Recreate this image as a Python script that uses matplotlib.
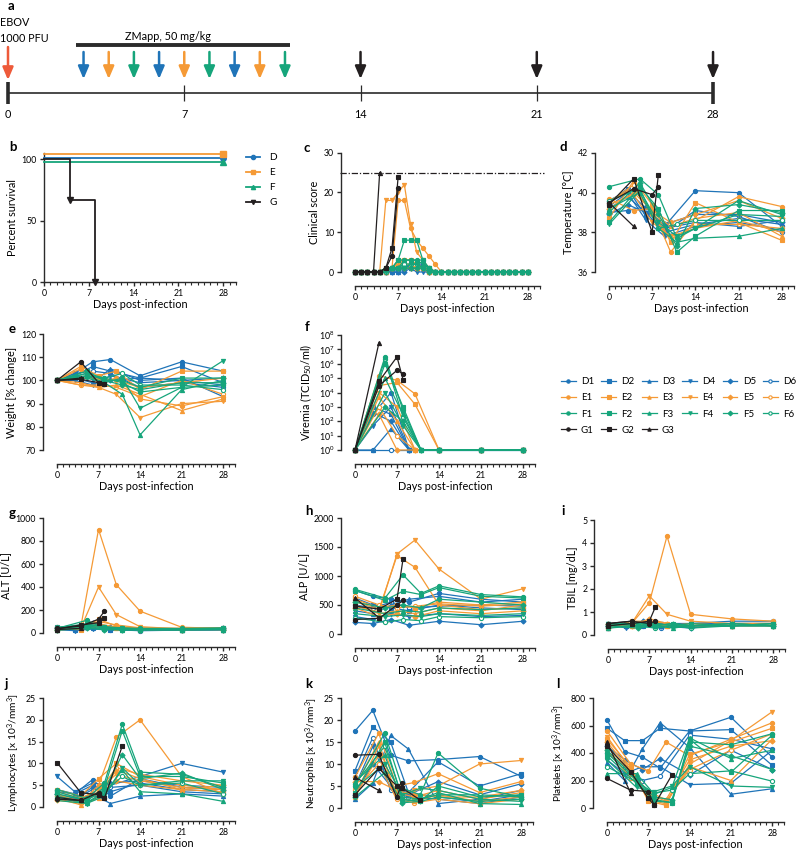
import matplotlib.pyplot as plt
import numpy as np
from matplotlib.ticker import MultipleLocator, FixedLocator
from matplotlib.lines import Line2D

plt.rcParams['font.family'] = ['Lato', 'DejaVu Sans']
plt.rcParams['mathtext.fontset'] = 'custom'
plt.rcParams['mathtext.rm'] = 'Lato'
plt.rcParams['mathtext.it'] = 'Lato:italic'
plt.rcParams['mathtext.bf'] = 'Lato:bold'

BLUE = '#1f74b8'
ORANGE = '#f59a36'
GREEN = '#16a57b'
BLACK = '#231f20'
RED = '#ee5a3a'
DARK = '#2b2b2b'

# ---- panel a: study timeline ----
timeline_days = [0, 7, 14, 21, 28]
dose_days = [3, 4, 5, 6, 7, 8, 9, 10, 11]
dose_groups = ['D', 'E', 'F', 'D', 'E', 'F', 'D', 'E', 'F']
sample_days = [14, 21, 28]

# ---- sampling schedules ----
days_D = [0, 3, 6, 9, 14, 21, 28]
days_E = [0, 4, 7, 10, 14, 21, 28]
days_F = [0, 5, 8, 11, 14, 21, 28]
days_G = [[0, 4, 7, 8], [0, 4, 7, 8], [0, 4]]
days_G_blood = [[0, 4, 7, 8], [0, 4, 7, 8, 11], [0, 4]]
score_days = list(range(29))
score_days_G = [list(range(8)), list(range(8)), list(range(5))]

# ---- panel b: survival ----
surv_days = [0, 28]
surv_D = [100, 100]
surv_E = [100, 100]
surv_F = [100, 100]
surv_days_G = [0, 4, 8]
surv_G = [100, 66.7, 0]

# ---- panel c: clinical score (daily) ----
score_D = [
    [0, 0, 0, 0, 0, 0, 0, 1, 1, 2, 2, 2, 1, 0, 0, 0, 0, 0, 0, 0, 0, 0, 0, 0, 0, 0, 0, 0, 0],
    [0, 0, 0, 0, 0, 0, 1, 1, 2, 1, 1, 1, 0, 0, 0, 0, 0, 0, 0, 0, 0, 0, 0, 0, 0, 0, 0, 0, 0],
    [0, 0, 0, 0, 0, 0, 0, 0, 1, 1, 1, 2, 1, 0, 0, 0, 0, 0, 0, 0, 0, 0, 0, 0, 0, 0, 0, 0, 0],
    [0, 0, 0, 0, 0, 0, 0, 1, 1, 1, 0, 0, 0, 0, 0, 0, 0, 0, 0, 0, 0, 0, 0, 0, 0, 0, 0, 0, 0],
    [0, 0, 0, 0, 0, 0, 0, 0, 0, 1, 1, 1, 0, 0, 0, 0, 0, 0, 0, 0, 0, 0, 0, 0, 0, 0, 0, 0, 0],
    [0, 0, 0, 0, 0, 0, 1, 1, 1, 1, 1, 1, 0, 0, 0, 0, 0, 0, 0, 0, 0, 0, 0, 0, 0, 0, 0, 0, 0],
]
score_E = [
    [0, 0, 0, 0, 0, 0, 1, 18, 18, 11, 8, 6, 4, 2, 0, 0, 0, 0, 0, 0, 0, 0, 0, 0, 0, 0, 0, 0, 0],
    [0, 0, 0, 0, 0, 1, 1, 3, 3, 3, 2, 1, 1, 0, 0, 0, 0, 0, 0, 0, 0, 0, 0, 0, 0, 0, 0, 0, 0],
    [0, 0, 0, 0, 0, 0, 1, 2, 2, 2, 1, 1, 0, 0, 0, 0, 0, 0, 0, 0, 0, 0, 0, 0, 0, 0, 0, 0, 0],
    [0, 0, 0, 0, 0, 18, 18, 20, 22, 12, 5, 3, 1, 0, 0, 0, 0, 0, 0, 0, 0, 0, 0, 0, 0, 0, 0, 0, 0],
    [0, 0, 0, 0, 0, 0, 1, 1, 1, 1, 1, 1, 0, 0, 0, 0, 0, 0, 0, 0, 0, 0, 0, 0, 0, 0, 0, 0, 0],
    [0, 0, 0, 0, 0, 1, 1, 2, 3, 3, 2, 1, 0, 0, 0, 0, 0, 0, 0, 0, 0, 0, 0, 0, 0, 0, 0, 0, 0],
]
score_F = [
    [0, 0, 0, 0, 0, 1, 1, 3, 3, 3, 3, 3, 1, 0, 0, 0, 0, 0, 0, 0, 0, 0, 0, 0, 0, 0, 0, 0, 0],
    [0, 0, 0, 0, 0, 1, 1, 3, 8, 8, 8, 3, 1, 0, 0, 0, 0, 0, 0, 0, 0, 0, 0, 0, 0, 0, 0, 0, 0],
    [0, 0, 0, 0, 0, 1, 1, 1, 3, 3, 3, 2, 1, 0, 0, 0, 0, 0, 0, 0, 0, 0, 0, 0, 0, 0, 0, 0, 0],
    [0, 0, 0, 0, 0, 0, 1, 1, 1, 2, 2, 1, 0, 0, 0, 0, 0, 0, 0, 0, 0, 0, 0, 0, 0, 0, 0, 0, 0],
    [0, 0, 0, 0, 0, 1, 1, 1, 1, 1, 1, 1, 0, 0, 0, 0, 0, 0, 0, 0, 0, 0, 0, 0, 0, 0, 0, 0, 0],
    [0, 0, 0, 0, 0, 0, 1, 1, 2, 2, 2, 1, 1, 0, 0, 0, 0, 0, 0, 0, 0, 0, 0, 0, 0, 0, 0, 0, 0],
]
score_G = [
    [0, 0, 0, 0, 0, 1, 4, 21],
    [0, 0, 0, 0, 0, 1, 6, 24],
    [0, 0, 0, 0, 25],
]
score_endpoint = 25

# ---- panel d: temperature ----
temp_D = [
    [39.0, 39.1, 39.3, 38.3, 40.1, 40.0, 38.3],
    [39.5, 40.2, 38.8, 38.2, 38.5, 38.3, 38.6],
    [39.2, 39.8, 39.0, 38.0, 38.4, 38.7, 38.4],
    [39.3, 40.0, 38.6, 37.8, 38.3, 38.5, 38.1],
    [38.9, 39.4, 39.0, 38.4, 38.9, 38.9, 38.5],
    [39.6, 40.1, 39.2, 38.0, 39.1, 38.8, 38.0],
]
temp_E = [
    [39.7, 39.1, 39.2, 37.0, 38.6, 39.8, 39.3],
    [38.7, 40.6, 39.4, 37.5, 39.5, 38.5, 37.6],
    [39.6, 40.2, 39.0, 38.3, 38.7, 39.0, 37.8],
    [39.4, 39.9, 38.5, 37.8, 38.2, 38.6, 38.0],
    [39.2, 40.0, 39.1, 38.5, 38.9, 39.6, 38.7],
    [39.5, 40.4, 38.9, 37.6, 38.4, 38.4, 38.2],
]
temp_F = [
    [40.3, 40.7, 39.9, 37.7, 38.2, 39.6, 38.9],
    [38.5, 40.3, 39.2, 37.0, 37.8, 39.1, 39.1],
    [39.2, 40.0, 38.2, 37.5, 37.7, 37.8, 38.2],
    [38.4, 40.1, 38.5, 37.8, 38.2, 38.9, 38.8],
    [39.0, 40.5, 38.9, 37.3, 39.2, 39.4, 39.0],
    [39.6, 40.2, 38.2, 38.4, 38.6, 38.6, 38.6],
]
temp_G = [
    [39.5, 40.2, 39.9, 40.3],
    [39.4, 40.7, 38.0, 40.9],
    [39.5, 38.3],
]

# ---- panel e: weight ----
weight_D = [
    [100, 103, 108, 109, 102, 108, 104],
    [100, 102, 106, 104, 101, 106, 99],
    [100, 101, 99, 105, 100, 101, 93],
    [100, 100, 98, 102, 99, 100, 98],
    [100, 102, 101, 100, 101, 100, 101],
    [100, 103, 104, 103, 97, 99, 97],
]
weight_E = [
    [100, 105, 99, 101, 92, 89, 93],
    [100, 106, 102, 104, 96, 104, 104],
    [100, 99, 97, 98, 94, 87, 92],
    [100, 98, 97, 94, 84, 90, 91],
    [100, 101, 101, 100, 97, 99, 101],
    [100, 98, 98, 97, 93, 100, 94],
]
weight_F = [
    [100, 103, 101, 99, 95, 97, 98],
    [100, 104, 100, 100, 97, 101, 101],
    [100, 102, 99, 94, 76.5, 96, 100],
    [100, 101, 99, 101, 88, 97, 108.5],
    [100, 103, 100, 98, 96, 99, 99],
    [100, 102, 101, 103, 98, 98, 96],
]
weight_G = [
    [100, 108, 99, 98.5],
    [100, 100.5, 99, 98.5],
    [100, 101],
]

# ---- panel f: viremia (TCID50/ml) ----
vir_D = [
    [1, 3e2, 1e4, 1, 1, 1, 1],
    [1, 1e3, 3e2, 1, 1, 1, 1],
    [1, 1, 3e1, 1, 1, 1, 1],
    [1, 5e1, 1e3, 1, 1, 1, 1],
    [1, 4e2, 1e2, 1, 1, 1, 1],
    [1, 1, 1, 1, 1, 1, 1],
]
vir_E = [
    [1, 1.5e5, 7e4, 8e3, 1, 1, 1],
    [1, 3e4, 5e4, 1.5e3, 1, 1, 1],
    [1, 5e3, 1e2, 1, 1, 1, 1],
    [1, 1e4, 1e3, 1, 1, 1, 1],
    [1, 3e2, 1, 1, 1, 1, 1],
    [1, 1e3, 1e1, 1, 1, 1, 1],
]
vir_F = [
    [1, 3e6, 6e2, 1, 1, 1, 1],
    [1, 1e6, 1e3, 1, 1, 1, 1],
    [1, 1e5, 3e2, 1, 1, 1, 1],
    [1, 1e4, 5e1, 1, 1, 1, 1],
    [1, 1e3, 1e2, 1, 1, 1, 1],
    [1, 2e6, 2e2, 1, 1, 1, 1],
]
vir_G = [
    [1, 3e4, 3.5e5, 2e5],
    [1, 6e4, 3e6, 8e4],
    [1, 3e7],
]

# ---- panel g: ALT ----
alt_D = [
    [40, 30, 60, 35, 30, 35, 35],
    [50, 25, 40, 30, 25, 30, 40],
    [35, 45, 70, 40, 35, 30, 30],
    [30, 20, 35, 25, 30, 25, 30],
    [45, 35, 90, 50, 40, 35, 45],
    [25, 30, 45, 30, 20, 25, 25],
]
alt_E = [
    [40, 50, 900, 420, 190, 50, 40],
    [35, 30, 120, 60, 40, 30, 35],
    [45, 35, 60, 45, 35, 40, 40],
    [30, 40, 400, 160, 55, 35, 30],
    [25, 40, 80, 50, 30, 30, 30],
    [50, 45, 100, 70, 45, 40, 45],
]
alt_F = [
    [40, 110, 40, 30, 30, 35, 35],
    [35, 60, 45, 35, 30, 30, 40],
    [30, 50, 35, 30, 25, 30, 30],
    [45, 80, 50, 40, 35, 35, 35],
    [25, 40, 30, 25, 30, 25, 30],
    [50, 70, 55, 45, 40, 40, 45],
]
alt_G = [
    [40, 60, 120, 190],
    [35, 70, 90, 130],
    [30, 40],
]

# ---- panel h: ALP ----
alp_D = [
    [750, 650, 600, 550, 700, 600, 550],
    [620, 500, 450, 400, 500, 450, 420],
    [400, 350, 500, 600, 650, 550, 600],
    [300, 250, 350, 300, 350, 300, 320],
    [200, 180, 250, 150, 220, 160, 220],
    [500, 450, 550, 450, 480, 500, 480],
]
alp_E = [
    [560, 420, 1350, 1150, 500, 420, 450],
    [600, 450, 500, 450, 550, 500, 550],
    [500, 350, 400, 350, 450, 400, 500],
    [480, 380, 1380, 1620, 1120, 600, 780],
    [450, 300, 350, 300, 400, 350, 400],
    [650, 500, 450, 480, 520, 480, 520],
]
alp_F = [
    [770, 620, 1020, 700, 830, 680, 640],
    [750, 580, 740, 680, 800, 650, 620],
    [450, 350, 400, 380, 450, 420, 450],
    [350, 300, 330, 300, 350, 320, 350],
    [550, 450, 500, 450, 600, 550, 500],
    [280, 200, 250, 230, 300, 280, 300],
]
alp_G = [
    [250, 270, 500, 580],
    [480, 430, 600, 1290],
    [620, 280],
]

# ---- panel i: TBIL ----
tbil_D = [
    [0.5, 0.4, 0.5, 0.4, 0.5, 0.6, 0.6],
    [0.4, 0.5, 0.4, 0.5, 0.4, 0.5, 0.5],
    [0.3, 0.4, 0.5, 0.4, 0.4, 0.4, 0.5],
    [0.5, 0.3, 0.4, 0.5, 0.5, 0.5, 0.4],
    [0.4, 0.4, 0.6, 0.4, 0.3, 0.5, 0.5],
    [0.3, 0.5, 0.4, 0.3, 0.4, 0.4, 0.4],
]
tbil_E = [
    [0.4, 0.5, 1.4, 4.3, 0.9, 0.7, 0.6],
    [0.3, 0.6, 0.6, 0.5, 0.4, 0.5, 0.5],
    [0.5, 0.4, 0.5, 0.4, 0.5, 0.4, 0.4],
    [0.4, 0.5, 1.7, 0.9, 0.6, 0.5, 0.5],
    [0.5, 0.4, 0.7, 0.5, 0.4, 0.4, 0.5],
    [0.3, 0.5, 0.5, 0.4, 0.4, 0.5, 0.4],
]
tbil_F = [
    [0.5, 0.4, 0.5, 0.4, 0.4, 0.4, 0.5],
    [0.4, 0.5, 0.4, 0.5, 0.4, 0.5, 0.4],
    [0.3, 0.4, 0.4, 0.3, 0.4, 0.4, 0.4],
    [0.5, 0.5, 0.5, 0.4, 0.5, 0.4, 0.5],
    [0.4, 0.3, 0.4, 0.5, 0.4, 0.5, 0.4],
    [0.5, 0.4, 0.3, 0.4, 0.3, 0.4, 0.4],
]
tbil_G = [
    [0.5, 0.6, 0.5, 0.6],
    [0.4, 0.5, 0.6, 1.2],
    [0.5, 0.6],
]

# ---- panel j: lymphocytes ----
lym_D = [
    [4.0, 3.0, 6.3, 2.5, 6.5, 4.5, 4.0],
    [3.5, 3.0, 5.0, 3.5, 5.5, 4.0, 3.5],
    [2.0, 1.5, 3.0, 0.8, 2.5, 3.0, 2.5],
    [7.0, 3.5, 5.5, 5.0, 7.0, 10.0, 8.0],
    [3.0, 2.0, 4.5, 5.5, 6.0, 5.0, 4.5],
    [2.5, 1.8, 4.0, 4.5, 5.0, 3.5, 3.0],
]
lym_E = [
    [3.0, 1.0, 5.0, 16.0, 20.0, 7.0, 3.0],
    [4.0, 2.5, 6.5, 10.0, 7.0, 5.0, 4.0],
    [2.0, 0.5, 2.0, 8.5, 6.5, 4.0, 3.5],
    [3.5, 2.0, 4.0, 7.5, 6.0, 4.5, 4.0],
    [1.5, 1.0, 3.0, 6.0, 5.0, 4.0, 5.0],
    [2.5, 1.5, 3.5, 9.0, 7.5, 6.0, 5.0],
]
lym_F = [
    [4.0, 2.0, 5.5, 19.0, 8.0, 7.5, 4.5],
    [3.5, 1.5, 4.5, 17.5, 7.0, 7.0, 5.5],
    [2.5, 1.0, 3.0, 8.5, 3.5, 3.0, 1.3],
    [1.5, 0.8, 2.5, 9.0, 5.0, 6.0, 6.0],
    [3.0, 1.5, 4.0, 12.0, 6.5, 7.8, 4.0],
    [2.0, 1.0, 3.5, 7.0, 5.0, 5.5, 3.0],
]
lym_G = [
    [1.8, 1.5, 3.3, 2.0],
    [10.2, 3.3, 2.8, 2.0, 14.0],
    [2.2, 1.5],
]

# ---- panel k: neutrophils ----
neu_D = [
    [17.5, 22.2, 12.0, 10.7, 11.0, 11.7, 7.2],
    [8.5, 18.5, 15.0, 3.5, 10.5, 5.0, 7.8],
    [2.0, 5.7, 16.5, 13.4, 1.0, 2.0, 4.0],
    [5.0, 14.0, 4.5, 3.5, 2.5, 1.5, 3.0],
    [3.0, 10.0, 5.0, 3.0, 6.0, 3.0, 5.5],
    [7.0, 16.0, 4.0, 2.5, 2.0, 1.0, 2.5],
]
neu_E = [
    [7.0, 17.0, 5.0, 5.8, 7.8, 3.5, 6.0],
    [2.5, 12.0, 3.5, 2.5, 4.0, 2.0, 3.5],
    [5.0, 15.0, 2.5, 1.5, 3.0, 1.5, 2.5],
    [3.0, 14.0, 3.0, 4.0, 5.0, 10.0, 10.8],
    [6.0, 6.0, 4.0, 3.0, 2.5, 2.5, 4.0],
    [4.0, 10.0, 2.0, 1.2, 2.0, 1.0, 2.0],
]
neu_F = [
    [5.0, 17.0, 4.5, 3.0, 12.5, 4.5, 2.5],
    [3.5, 15.0, 2.0, 1.5, 5.0, 2.5, 3.0],
    [6.0, 12.0, 1.5, 2.0, 3.5, 1.0, 0.8],
    [4.5, 10.0, 3.0, 4.5, 4.0, 2.0, 1.5],
    [2.5, 8.0, 1.2, 1.5, 2.5, 1.5, 2.0],
    [5.5, 14.0, 2.5, 2.0, 3.0, 3.0, 2.5],
]
neu_G = [
    [12.0, 12.2, 2.5, 5.7],
    [3.0, 9.0, 5.1, 4.5, 1.8],
    [7.0, 4.0],
]

# ---- panel l: platelets ----
plt_D = [
    [640, 410, 370, 290, 560, 660, 370],
    [580, 490, 490, 580, 560, 570, 310],
    [330, 200, 430, 620, 440, 100, 140],
    [350, 250, 300, 300, 170, 180, 420],
    [450, 350, 280, 360, 240, 420, 280],
    [400, 300, 200, 230, 530, 500, 430],
]
plt_E = [
    [560, 320, 270, 480, 380, 500, 620],
    [500, 300, 50, 20, 390, 480, 580],
    [450, 250, 80, 40, 300, 200, 500],
    [520, 280, 60, 30, 320, 490, 700],
    [480, 270, 120, 60, 350, 450, 490],
    [420, 220, 100, 50, 280, 420, 540],
]
plt_F = [
    [400, 200, 60, 40, 480, 460, 540],
    [380, 180, 50, 40, 500, 260, 530],
    [250, 250, 100, 150, 510, 360, 420],
    [350, 150, 120, 160, 300, 160, 150],
    [420, 210, 80, 60, 450, 380, 280],
    [300, 190, 110, 130, 250, 270, 195],
]
plt_G = [
    [215, 130, 120, 20],
    [450, 265, 70, 20, 240],
    [480, 110],
]

groups = ['D', 'E', 'F', 'G']
group_colors = {'D': BLUE, 'E': ORANGE, 'F': GREEN, 'G': BLACK}
animal_markers = ['o', 's', '^', 'v', 'D', 'o']

W, H = 800, 852
fig = plt.figure(figsize=(8, 8.52), dpi=100)


def add_ax(x0, y0, x1, y1):
    # pixel box of the data area (y from the top of the figure)
    return fig.add_axes([x0 / W, 1 - y1 / H, (x1 - x0) / W, (y1 - y0) / H])


def style(ax, ylim, yticks, ylabel, offset=True, ylabel_size=7.8):
    ax.set_xlim(0, 30)
    ax.set_ylim(*ylim)
    ax.xaxis.set_major_locator(FixedLocator(timeline_days))
    ax.xaxis.set_minor_locator(MultipleLocator(1))
    ax.set_yticks(yticks)
    for s in ['top', 'right']:
        ax.spines[s].set_visible(False)
    for s in ['left', 'bottom']:
        ax.spines[s].set_linewidth(1.0)
        ax.spines[s].set_color(DARK)
        if offset:
            ax.spines[s].set_position(('outward', 10))
    ax.tick_params(which='major', length=3, width=1.0, labelsize=6.3, color=DARK, pad=2)
    ax.tick_params(which='minor', length=1.8, width=0.8, color=DARK)
    ax.tick_params(axis='y', which='minor', length=0)
    ax.set_xlabel('Days post-infection', fontsize=7.8, labelpad=1)
    ax.set_ylabel(ylabel, fontsize=ylabel_size, labelpad=3)


def draw_animals(ax, data, days_g=None, daily=False):
    for g in groups:
        series = data[g]
        # hollow-marker animal first so filled markers sit on top
        order = list(range(len(series)))
        if len(order) == 6:
            order = [5, 0, 1, 2, 3, 4]
        for i in order:
            vals = series[i]
            if g == 'G':
                x = days_g[i]
            elif daily:
                x = score_days
            else:
                x = {'D': days_D, 'E': days_E, 'F': days_F}[g]
            m = animal_markers[i]
            ax.plot(x, vals, color=group_colors[g], lw=0.9, marker=m,
                    ms=2.6 if m == 'D' else 3.0,
                    mfc='white' if i == 5 else group_colors[g],
                    mew=0.8, clip_on=False, zorder=3)


# ---- panel a ----
ax_a = fig.add_axes([0, 1 - 120 / H, 1, 120 / H])
ax_a.set_xlim(-8 / 25.18, (800 - 8) / 25.18)
ax_a.set_ylim(120, 0)
ax_a.axis('off')
ax_a.plot([timeline_days[0], timeline_days[-1]], [93, 93], color=DARK, lw=1.2)
for d in timeline_days:
    end = d in (timeline_days[0], timeline_days[-1])
    ax_a.plot([d, d], [82, 104] if end else [85, 101], color=DARK,
              lw=2.6 if end else 0.9, solid_capstyle='butt')
    ax_a.text(d, 114, str(d), ha='center', va='center', fontsize=7.8)


def down_arrow(x, y0, y1, color):
    ax_a.annotate('', xy=(x, y1), xytext=(x, y0),
                  arrowprops=dict(arrowstyle='-|>,head_width=0.32,head_length=0.75',
                                  color=color, lw=1.8, shrinkA=0, shrinkB=0))


down_arrow(0, 47, 80, RED)
for d, g in zip(dose_days, dose_groups):
    down_arrow(d, 52, 79, group_colors[g])
for d in sample_days:
    down_arrow(d, 52, 79, BLACK)
ax_a.plot([dose_days[0] - 0.3, dose_days[-1] + 0.2], [45, 45], color=DARK, lw=2.8,
          solid_capstyle='butt')
ax_a.text(4.65, 37, 'ZMapp, 50 mg/kg', fontsize=7.8, va='center', ha='left')
ax_a.text(-0.3, 22, 'EBOV', fontsize=7.8, va='center', ha='left')
ax_a.text(-0.3, 38, '1000 PFU', fontsize=7.8, va='center', ha='left')

# ---- panel b: survival ----
ax_b = add_ax(44, 153, 236, 282)
style(ax_b, (0, 105), [0, 50, 100], 'Percent survival', offset=False)
surv_shift = {'D': 0.8, 'E': 4.2, 'F': -2.0, 'G': 0}
surv_marker = {'D': 'o', 'E': 's', 'F': '^', 'G': 'v'}
b_handles = []
for g, vals in zip(['D', 'E', 'F'], [surv_D, surv_E, surv_F]):
    y = np.array(vals) + surv_shift[g]
    ax_b.plot(surv_days, y, color=group_colors[g], lw=1.3, clip_on=False, zorder=3)
    ax_b.plot(surv_days[-1], y[-1], marker=surv_marker[g], color=group_colors[g],
              ms=4, clip_on=False, zorder=4)
ax_b.plot(surv_days_G, surv_G, drawstyle='steps-post', color=BLACK, lw=1.3,
          clip_on=False, zorder=5)
ax_b.plot(surv_days_G[1:], surv_G[1:], 'v', color=BLACK, ms=4, clip_on=False, zorder=5)
for g in groups:
    b_handles.append(Line2D([], [], color=group_colors[g], marker=surv_marker[g], lw=1.3, ms=3))
fig.legend(b_handles, groups, loc='upper left', bbox_to_anchor=(246 / W, 1 - 153 / H),
           frameon=False, fontsize=7.2, handlelength=1.4, handletextpad=0.9,
           labelspacing=0.6, borderaxespad=0, borderpad=0)

# ---- panel c ----
ax_c = add_ax(355, 152.7, 540, 272)
style(ax_c, (0, 30), [0, 10, 20, 30], 'Clinical score')
ax_c.axhline(score_endpoint, xmin=-0.08, xmax=1.02, color=BLACK, lw=0.9,
             ls=(0, (5, 1.5, 1, 1.5)), clip_on=False, zorder=1)
draw_animals(ax_c, {'D': score_D, 'E': score_E, 'F': score_F, 'G': score_G},
             days_g=score_days_G, daily=True)

# ---- panel d ----
ax_d = add_ax(609, 153, 794, 272)
style(ax_d, (36, 42), [36, 38, 40, 42], 'Temperature [°C]')
draw_animals(ax_d, {'D': temp_D, 'E': temp_E, 'F': temp_F, 'G': temp_G}, days_g=days_G)

# ---- panel e ----
ax_e = add_ax(57, 334, 235, 450)
style(ax_e, (70, 120), [70, 80, 90, 100, 110, 120], 'Weight [% change]')
draw_animals(ax_e, {'D': weight_D, 'E': weight_E, 'F': weight_F, 'G': weight_G}, days_g=days_G)

# ---- panel f ----
ax_f = add_ax(355, 335, 535, 450)
ax_f.set_yscale('log')
style(ax_f, (1, 1e8), [10.0 ** k for k in range(9)], 'Viremia (TCID$_{50}$/ml)')
ax_f.set_yticklabels(['10$^{%d}$' % k for k in range(9)])
ax_f.yaxis.set_minor_locator(FixedLocator([]))
draw_animals(ax_f, {'D': vir_D, 'E': vir_E, 'F': vir_F, 'G': vir_G}, days_g=days_G)

# ---- panel g ----
ax_g = add_ax(57, 518, 235, 633)
style(ax_g, (0, 1000), [0, 200, 400, 600, 800, 1000], 'ALT [U/L]')
draw_animals(ax_g, {'D': alt_D, 'E': alt_E, 'F': alt_F, 'G': alt_G}, days_g=days_G)

# ---- panel h ----
ax_h = add_ax(355, 518, 535, 634)
style(ax_h, (0, 2000), [0, 500, 1000, 1500, 2000], 'ALP [U/L]')
draw_animals(ax_h, {'D': alp_D, 'E': alp_E, 'F': alp_F, 'G': alp_G}, days_g=days_G)

# ---- panel i ----
ax_i = add_ax(608, 520, 785, 635)
style(ax_i, (0, 5), [0, 1, 2, 3, 4, 5], 'TBIL [mg/dL]')
draw_animals(ax_i, {'D': tbil_D, 'E': tbil_E, 'F': tbil_F, 'G': tbil_G}, days_g=days_G)

# ---- panel j ----
ax_j = add_ax(57, 698, 235, 807)
style(ax_j, (0, 25), [0, 5, 10, 15, 20, 25], 'Lymphocytes [x 10$^3$/mm$^3$]', ylabel_size=7.3)
draw_animals(ax_j, {'D': lym_D, 'E': lym_E, 'F': lym_F, 'G': lym_G}, days_g=days_G_blood)

# ---- panel k ----
ax_k = add_ax(355, 698, 533, 808)
style(ax_k, (0, 25), [0, 5, 10, 15, 20, 25], 'Neutrophils [x 10$^3$/mm$^3$]', ylabel_size=7.3)
draw_animals(ax_k, {'D': neu_D, 'E': neu_E, 'F': neu_F, 'G': neu_G}, days_g=days_G_blood)

# ---- panel l ----
ax_l = add_ax(607, 698, 784, 808)
style(ax_l, (0, 800), [0, 200, 400, 600, 800], 'Platelets [x 10$^3$/mm$^3$]', ylabel_size=7.3)
draw_animals(ax_l, {'D': plt_D, 'E': plt_E, 'F': plt_F, 'G': plt_G}, days_g=days_G_blood)

# ---- individual animal legend ----
handles, labels = [], []
for i in range(6):
    for g in groups:
        if g == 'G' and i > 2:
            continue
        handles.append(Line2D([], [], color=group_colors[g], lw=0.9, marker=animal_markers[i],
                              ms=2.4, mfc='white' if i == 5 else group_colors[g], mew=0.8))
        labels.append('%s%d' % (g, i + 1))
fig.legend(handles, labels, ncol=6, loc='upper left', bbox_to_anchor=(561 / W, 1 - 377 / H),
           frameon=False, fontsize=7, handlelength=1.5, handletextpad=0.55,
           columnspacing=0.75, labelspacing=0.75, borderaxespad=0, borderpad=0)

# ---- panel letters ----
for letter, (x, y) in {'a': (8, 6), 'b': (9, 147), 'c': (304, 148), 'd': (560, 147),
                       'e': (9, 329), 'f': (305, 327), 'g': (9, 513), 'h': (305, 511),
                       'i': (561, 511), 'j': (4, 684), 'k': (305, 684), 'l': (556, 684)}.items():
    fig.text(x / W, 1 - y / H, letter, fontsize=9.5, fontweight='bold', va='center', ha='left')

fig.savefig('out.png', dpi=100)
